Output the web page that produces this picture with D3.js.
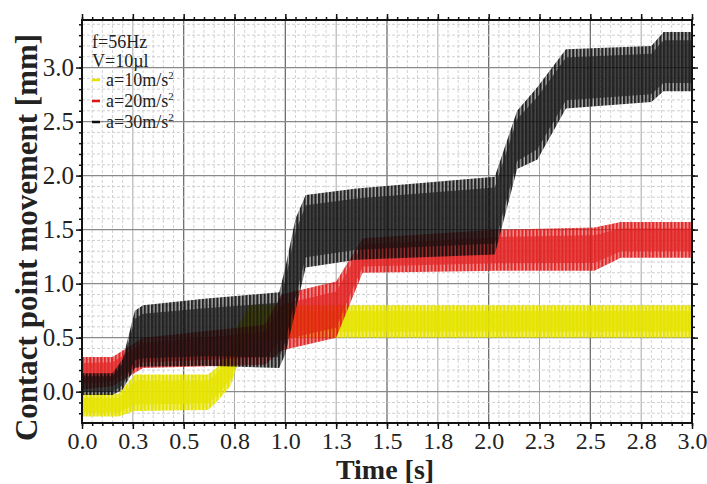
<!DOCTYPE html>
<html><head><meta charset="utf-8">
<script src="https://cdn.jsdelivr.net/npm/d3@7"></script>
<style>
body{margin:0;background:#fff}
svg{display:block}
text{font-family:"Liberation Serif","Times New Roman",serif;fill:#222}
</style>
</head><body>
<svg id="chart" width="707" height="484"></svg>
<script>
// ---------- data ----------
const xTickValues = [0,0.25,0.5,0.75,1,1.25,1.5,1.75,2,2.25,2.5,2.75,3];
const xTickLabels = ["0.0","0.3","0.5","0.8","1.0","1.3","1.5","1.8","2.0","2.3","2.5","2.8","3.0"];
const yTickValues = [0,0.5,1,1.5,2,2.5,3];
const yTickLabels = ["0.0","0.5","1.0","1.5","2.0","2.5","3.0"];
const legendHeader = ["f=56Hz","V=10\u00b5l"];
const seriesNames = ["a=10m/s","a=20m/s","a=30m/s"];
const frequencyHz = 56;

// envelope (min / max of the 56 Hz oscillation) of each run
const yellowTime = [0, 0.18, 0.26, 0.62, 0.66, 0.73, 0.77, 0.82, 3.0];
const yellowLow  = [-0.23, -0.23, -0.18, -0.17, -0.10, 0.05, 0.28, 0.50, 0.50];
const yellowHigh = [-0.02, -0.02, 0.16, 0.16, 0.22, 0.40, 0.62, 0.80, 0.80];

const redTime = [0, 0.15, 0.30, 0.90, 0.98, 1.25, 1.38, 2.05, 2.52, 2.65, 3.0];
const redLow  = [0.02, 0.05, 0.22, 0.25, 0.38, 0.50, 1.10, 1.12, 1.12, 1.24, 1.24];
const redHigh = [0.32, 0.32, 0.50, 0.62, 0.90, 1.02, 1.42, 1.50, 1.52, 1.57, 1.57];

const blackTime = [0, 0.15, 0.20, 0.26, 0.30, 0.60, 0.97, 1.00, 1.05, 1.10, 1.35, 2.03, 2.14, 2.24, 2.38, 2.80, 2.86, 3.0];
const blackLow  = [-0.03, -0.03, 0.02, 0.22, 0.23, 0.24, 0.22, 0.35, 0.75, 1.15, 1.22, 1.27, 2.06, 2.15, 2.62, 2.68, 2.78, 2.78];
const blackHigh = [0.17, 0.17, 0.30, 0.75, 0.80, 0.86, 0.92, 1.15, 1.60, 1.82, 1.88, 1.99, 2.60, 2.82, 3.17, 3.20, 3.33, 3.33];

const seriesColors = ["#e6e300", "#e01414", "#0d0d0d"];
const seriesOpacity = [1, 0.9, 0.9];

// ---------- chart ----------
const svg = d3.select("#chart");
const L = 82, R = 692, T = 20, B = 423;
const x = d3.scaleLinear().domain([0, 3]).range([L, R]);
const y = d3.scaleLinear().domain([-0.29, 3.44]).range([B, T]);

const toRows = (t, lo, hi) => t.map((d, i) => ({t: d, lo: lo[i], hi: hi[i]}));
const series = [
  toRows(yellowTime, yellowLow, yellowHigh),
  toRows(redTime, redLow, redHigh),
  toRows(blackTime, blackLow, blackHigh)
];

// grid
const g = svg.append("g");
const near = (v, s) => Math.abs(v / s - Math.round(v / s)) < 1e-6;
d3.range(0, 3.0001, 0.05).forEach(v => {
  const X = x(v);
  let stroke = "#d2d2d2", w = 1, dash = "3,2";
  if (near(v, 0.5)) { stroke = "#6e6e6e"; w = 1.3; dash = null; }
  else if (near(v, 0.25)) { stroke = "#a8a8a8"; w = 1; dash = null; }
  g.append("line").attr("x1", X).attr("x2", X).attr("y1", T).attr("y2", B)
    .attr("stroke", stroke).attr("stroke-width", w).attr("stroke-dasharray", dash);
});
d3.range(-0.2, 3.4001, 0.1).forEach(v => {
  const Y = y(v);
  let stroke = "#cfcfcf", w = 1, dash = "3,2";
  if (near(v, 0.5)) { stroke = "#8a8a8a"; w = 1.3; dash = null; }
  g.append("line").attr("x1", L).attr("x2", R).attr("y1", Y).attr("y2", Y)
    .attr("stroke", stroke).attr("stroke-width", w).attr("stroke-dasharray", dash);
});

// stripe patterns: one stripe per oscillation cycle
const cyclePx = x(1 / frequencyHz) - x(0);
const defs = svg.append("defs");
defs.append("clipPath").attr("id", "plotclip").append("rect")
  .attr("x", L).attr("y", T).attr("width", R - L).attr("height", B - T);
const bgOpacity = [0.5, 0.45, 0.35];
seriesColors.forEach((c, i) => {
  const p = defs.append("pattern").attr("id", "stripe" + i)
    .attr("patternUnits", "userSpaceOnUse").attr("x", L).attr("y", 0)
    .attr("width", cyclePx).attr("height", 10);
  p.append("rect").attr("x", 0).attr("y", 0).attr("width", cyclePx).attr("height", 10)
    .attr("fill", c).attr("fill-opacity", bgOpacity[i]);
  p.append("rect").attr("x", 0).attr("y", 0).attr("width", cyclePx * 0.62).attr("height", 10)
    .attr("fill", c);
});

const plot = svg.append("g").attr("clip-path", "url(#plotclip)");
const coreFrac = [0.18, 0.18, 0.14];
series.forEach((rows, i) => {
  const grp = plot.append("g").attr("opacity", seriesOpacity[i]);
  const outer = d3.area().x(d => x(d.t)).y0(d => y(d.lo)).y1(d => y(d.hi));
  grp.append("path").datum(rows).attr("d", outer).attr("fill", `url(#stripe${i})`);
  const core = d3.area().x(d => x(d.t))
    .y0(d => y(d.lo + (d.hi - d.lo) * coreFrac[i]))
    .y1(d => y(d.hi - (d.hi - d.lo) * coreFrac[i]));
  grp.append("path").datum(rows).attr("d", core).attr("fill", seriesColors[i]).attr("fill-opacity", 0.75);
});

// axes (ticks outward on all sides)
function styleAxis(sel) {
  sel.select(".domain").remove();
  sel.selectAll(".tick line").attr("stroke", "#111").attr("stroke-width", 1.5);
}
const xMinor = d3.range(0, 3.0001, 0.05);
const yMinor = d3.range(-0.2, 3.4001, 0.1);

svg.append("g").attr("transform", `translate(0,${B})`)
  .call(d3.axisBottom(x).tickValues(xMinor).tickSize(3).tickFormat("")).call(styleAxis);
svg.append("g").attr("transform", `translate(0,${T})`)
  .call(d3.axisTop(x).tickValues(xMinor).tickSize(3).tickFormat("")).call(styleAxis);
svg.append("g").attr("transform", `translate(0,${T})`)
  .call(d3.axisTop(x).tickValues(xTickValues).tickSize(6).tickFormat("")).call(styleAxis);
svg.append("g").attr("transform", `translate(${L},0)`)
  .call(d3.axisLeft(y).tickValues(yMinor).tickSize(3).tickFormat("")).call(styleAxis);
svg.append("g").attr("transform", `translate(${R},0)`)
  .call(d3.axisRight(y).tickValues(yMinor).tickSize(3).tickFormat("")).call(styleAxis);
svg.append("g").attr("transform", `translate(${R},0)`)
  .call(d3.axisRight(y).tickValues(yTickValues).tickSize(6).tickFormat("")).call(styleAxis);

const xAx = svg.append("g").attr("transform", `translate(0,${B})`)
  .call(d3.axisBottom(x).tickValues(xTickValues).tickSize(6).tickPadding(3)
    .tickFormat((d, i) => xTickLabels[i])).call(styleAxis);
xAx.selectAll("text").attr("font-size", 24).attr("fill", "#333")
  .style("font-family", '"Liberation Serif",serif');

const yAx = svg.append("g").attr("transform", `translate(${L},0)`)
  .call(d3.axisLeft(y).tickValues(yTickValues).tickSize(6).tickPadding(2)
    .tickFormat((d, i) => yTickLabels[i])).call(styleAxis);
yAx.selectAll("text").attr("font-size", 25).attr("fill", "#333")
  .style("font-family", '"Liberation Serif",serif');

// frame
svg.append("rect").attr("x", L).attr("y", T).attr("width", R - L).attr("height", B - T)
  .attr("fill", "none").attr("stroke", "#111").attr("stroke-width", 2);

// axis titles
svg.append("text").attr("x", (L + R) / 2 - 2).attr("y", 479).attr("text-anchor", "middle")
  .attr("font-size", 28).attr("font-weight", "bold").attr("fill", "#111").text("Time [s]");
svg.append("text").attr("transform", `translate(37,${(T + B) / 2 + 16}) rotate(-90)`)
  .attr("text-anchor", "middle").attr("font-size", 31).attr("font-weight", "bold").attr("fill", "#111")
  .text("Contact point movement [mm]");

// legend
const lg = svg.append("g");
legendHeader.forEach((t, i) => {
  lg.append("text").attr("x", 92).attr("y", 48 + i * 19).attr("font-size", 18).attr("fill", "#333").text(t);
});
seriesNames.forEach((t, i) => {
  const by = 86 + i * 21;
  lg.append("line").attr("x1", 92).attr("x2", 100).attr("y1", by - 6).attr("y2", by - 6)
    .attr("stroke", seriesColors[i]).attr("stroke-width", 2.5);
  const tx = lg.append("text").attr("x", 106).attr("y", by).attr("font-size", 18).attr("fill", "#333");
  tx.append("tspan").text(t);
  tx.append("tspan").attr("dy", -7).attr("font-size", 11).text("2");
});
</script>
</body></html>
